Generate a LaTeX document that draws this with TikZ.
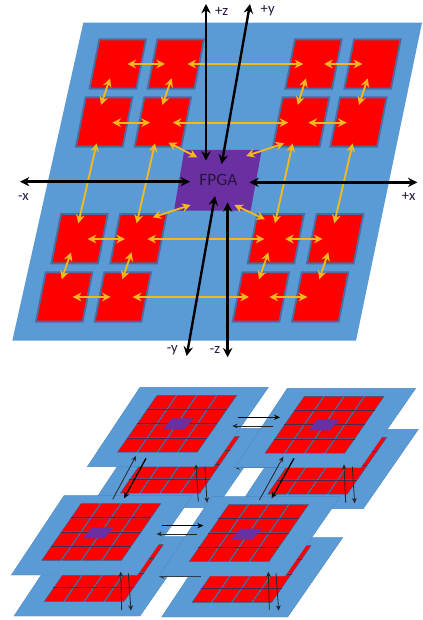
\documentclass[tikz,border=0pt]{standalone}
\usepackage{fontspec}
\setmainfont{Carlito}
\usetikzlibrary{arrows.meta}
\definecolor{plateblue}{HTML}{5B9BD5}
\definecolor{plateedge}{HTML}{4F8AC0}
\definecolor{blockedge}{HTML}{4F6A9E}
\definecolor{celledge}{HTML}{3A5A8C}
\definecolor{rowedge}{HTML}{4A2A50}
\definecolor{fpgapurple}{HTML}{6A2FA0}
\definecolor{linkyellow}{HTML}{F2B81E}
\definecolor{darktext}{HTML}{24163F}
\tikzset{
  plateface/.style={fill=plateblue,draw=plateedge,line width=.3pt},
  redblock/.style={fill=red,draw=blockedge,line width=1.4pt},
  redcell/.style={fill=red,draw=celledge,line width=.3pt},
  rowrule/.style={draw=rowedge,line width=.6pt},
  purplechip/.style={fill=fpgapurple,draw=none},
  yellowlink/.style={draw=linkyellow,line width=1.4pt,{Stealth[length=6.5pt,width=6.5pt]}-{Stealth[length=6.5pt,width=6.5pt]}},
  axisline/.style={draw=black,line width=1.8pt,{Stealth[length=7pt,width=7pt]}-{Stealth[length=7pt,width=7pt]}},
  busthick/.style={draw=black,line width=1pt,-{Stealth[length=4.5pt,width=4pt]}},
  busthin/.style={draw=black!85,line width=.6pt,-{Stealth[length=4pt,width=3.6pt]}},
  axislabel/.style={font=\fontsize{11}{12}\selectfont,text=darktext,inner sep=0pt},
}
% connector between two named coordinates
\newcommand{\joinby}[4]{%
  \coordinate (#2-a) at (#3);
  \coordinate (#2-b) at (#4);
  \path[#1] (#2-a) -- (#2-b);
}
% red block, x of top-left corner and y of top
\newcommand{\blockat}[2]{%
  \path[redblock] (#1,#2) -- ++(140,0) -- ++(-29,148) -- ++(-140,0) -- cycle;
}
% 4x4 grid, offset from the first module
\newcommand{\cellgrid}[2]{%
  \begin{scope}[shift={(#1,#2)}]
    \foreach \i in {0,1,2,3} {\foreach \j in {0,1,2,3} {
      \pgfmathsetmacro{\cx}{470+60.7*\i-30*\j}
      \pgfmathsetmacro{\cy}{75+43.25*\j}
      \path[redcell] (\cx+1,\cy+1) -- (\cx+58,\cy+1) -- (\cx+30,\cy+41.5) -- (\cx-27,\cy+41.5) -- cycle;
    }}
    \foreach \j in {1,2,3} {
      \pgfmathsetmacro{\cy}{75+43.25*\j}
      \pgfmathsetmacro{\cxa}{470-30*\j}
      \pgfmathsetmacro{\cxb}{712-30*\j}
      \path[rowrule] (\cxa,\cy) -- (\cxb,\cy);
    }
  \end{scope}
}
\newcommand{\plateat}[2]{%
  \path[plateface,shift={(#1,#2)}] (420,52) -- (805,52) -- (640,290) -- (262,290) -- cycle;
}
\newcommand{\chipat}[2]{%
  \path[purplechip,shift={(#1,#2)}] (515,145) -- (581,145) -- (552,178) -- (489,178) -- cycle;
}
\begin{document}
\begin{tikzpicture}[x=.25pt,y=-.25pt]
\useasboundingbox (0,0) rectangle (1266,1860);
\fill[white] (0,0) rectangle (1266,1860);
% ---------- upper panel ----------
\path[fill=plateblue] (250,68) -- (1266,68) -- (1068,1022) -- (37,1022) -- cycle;
\foreach \x in {298,472,885,1062} {\blockat{\x}{118}}
\foreach \x in {257,433,848,1020} {\blockat{\x}{292}}
\foreach \x in {183,360,772,950} {\blockat{\x}{642}}
\foreach \x in {137,313,727,905} {\blockat{\x}{817}}
\path[purplechip] (553,450) -- (785,450) -- (752,632) -- (522,632) -- cycle;
\node[text=darktext,font=\fontsize{13}{14}\selectfont,inner sep=0pt] (fpga) at (655,541) {FPGA};
% horizontal links
\joinby{yellowlink}{h1}{382,192}{495,192}
\joinby{yellowlink}{h2}{562,192}{910,192}
\joinby{yellowlink}{h3}{972,192}{1087,192}
\joinby{yellowlink}{h4}{337,368}{450,368}
\joinby{yellowlink}{h5}{518,368}{865,368}
\joinby{yellowlink}{h6}{925,368}{1040,368}
\joinby{yellowlink}{h7}{263,717}{375,717}
\joinby{yellowlink}{h8}{442,717}{793,717}
\joinby{yellowlink}{h9}{855,717}{968,717}
\joinby{yellowlink}{h10}{218,891}{332,891}
\joinby{yellowlink}{h11}{398,891}{747,891}
\joinby{yellowlink}{h12}{808,891}{922,891}
% vertical links
\joinby{yellowlink}{v1}{330,235}{303,315}
\joinby{yellowlink}{v2}{515,235}{487,315}
\joinby{yellowlink}{v3}{918,235}{893,315}
\joinby{yellowlink}{v4}{1103,235}{1077,315}
\joinby{yellowlink}{v5}{290,430}{235,670}
\joinby{yellowlink}{v6}{465,430}{410,670}
\joinby{yellowlink}{v7}{878,430}{825,670}
\joinby{yellowlink}{v8}{1058,430}{1003,670}
\joinby{yellowlink}{v9}{213,757}{185,838}
\joinby{yellowlink}{v10}{395,757}{367,838}
\joinby{yellowlink}{v11}{805,757}{777,838}
\joinby{yellowlink}{v12}{985,757}{958,838}
% links to the FPGA
\joinby{yellowlink}{d1}{505,428}{592,472}
\joinby{yellowlink}{d2}{853,430}{738,468}
\joinby{yellowlink}{d3}{572,615}{458,652}
\joinby{yellowlink}{d4}{703,615}{795,658}
% axes
\joinby{axisline}{pz}{618,12}{618,482}
\joinby{axisline}{py}{750,12}{665,492}
\joinby{axisline}{mx}{60,545}{570,545}
\joinby{axisline}{px}{748,547}{1252,547}
\joinby{axisline}{my}{645,588}{560,1068}
\joinby{axisline}{mz}{683,607}{683,1072}
\node[axislabel] (lpz) at (665,33) {+z};
\node[axislabel] (lpy) at (803,33) {+y};
\node[axislabel] (lmx) at (70,590) {-x};
\node[axislabel] (lpx) at (1226,590) {+x};
\node[axislabel] (lmy) at (517,1050) {-y};
\node[axislabel] (lmz) at (645,1050) {-z};
% ---------- lower panel ----------
\begin{scope}[shift={(0,1110)}]
  % lower plates
  \plateat{8}{123}\cellgrid{8}{123}
  \plateat{450}{126}\cellgrid{450}{126}
  \plateat{-220}{448}\cellgrid{-220}{448}
  \plateat{223}{451}\cellgrid{223}{451}
  % links that pass behind the upper plates
  \joinby{busthin}{b1}{830,292}{703,292}
  \joinby{busthin}{b2}{602,619}{477,619}
  % upper plates
  \plateat{0}{0}\cellgrid{0}{0}\chipat{0}{0}
  \plateat{442}{3}\cellgrid{442}{3}\chipat{437}{3}
  \plateat{-228}{325}\cellgrid{-228}{325}\chipat{-239}{327}
  \plateat{215}{328}\cellgrid{215}{328}\chipat{205}{331}
  % links between modules
  \joinby{busthick}{e1}{713,142}{840,142}
  \joinby{busthin}{e2}{820,168}{697,168}
  \joinby{busthick}{e3}{485,467}{610,467}
  \joinby{busthin}{e4}{592,492}{470,492}
  % links between layers
  \joinby{busthin}{a1}{338,388}{408,258}
  \joinby{busthick}{a2}{438,265}{372,385}
  \joinby{busthin}{a3}{595,395}{588,283}
  \joinby{busthin}{a4}{615,290}{621,398}
  \joinby{busthin}{b3}{778,390}{850,260}
  \joinby{busthick}{b4}{882,265}{815,385}
  \joinby{busthin}{b5}{1037,398}{1032,283}
  \joinby{busthin}{b6}{1057,290}{1064,400}
  \joinby{busthin}{c1}{365,720}{362,605}
  \joinby{busthin}{c2}{385,610}{393,722}
  \joinby{busthin}{f1}{808,720}{805,605}
  \joinby{busthin}{f2}{828,610}{836,722}
\end{scope}
\end{tikzpicture}
\end{document}
